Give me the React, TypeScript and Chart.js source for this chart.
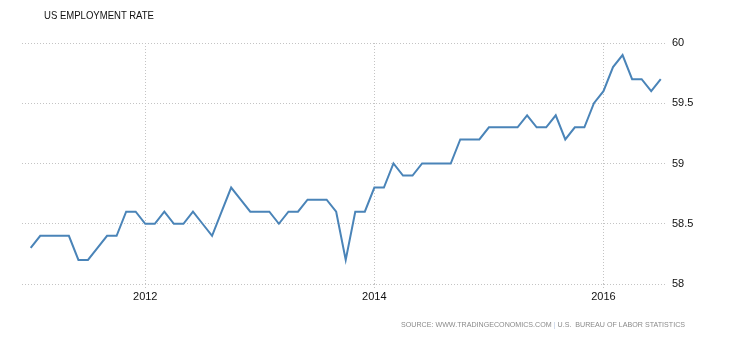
import React, { useEffect, useRef } from "react";
import { Chart, registerables } from "chart.js";

Chart.register(...registerables);

const startYear = 2011;
// Monthly values Jan 2011 .. Jul 2016
const values2011 = [58.3, 58.4, 58.4, 58.4, 58.4, 58.2, 58.2, 58.3, 58.4, 58.4, 58.6, 58.6];
const values2012 = [58.5, 58.5, 58.6, 58.5, 58.5, 58.6, 58.5, 58.4, 58.6, 58.8, 58.7, 58.6];
const values2013 = [58.6, 58.6, 58.5, 58.6, 58.6, 58.7, 58.7, 58.7, 58.6, 58.2, 58.6, 58.6];
const values2014 = [58.8, 58.8, 59.0, 58.9, 58.9, 59.0, 59.0, 59.0, 59.0, 59.2, 59.2, 59.2];
const values2015 = [59.3, 59.3, 59.3, 59.3, 59.4, 59.3, 59.3, 59.4, 59.2, 59.3, 59.3, 59.5];
const values2016 = [59.6, 59.8, 59.9, 59.7, 59.7, 59.6, 59.7];
const values = [...values2011, ...values2012, ...values2013, ...values2014, ...values2015, ...values2016];

const tickYears = [2012, 2014, 2016];
const yTicks = [58, 58.5, 59, 59.5, 60];

export default function App() {
  const ref = useRef<HTMLCanvasElement | null>(null);

  useEffect(() => {
    document.body.style.margin = "0";
    if (!ref.current) return;
    const points = values.map((v, i) => ({ x: i, y: v }));
    const chart = new Chart(ref.current, {
      type: "line",
      data: {
        datasets: [
          {
            data: points,
            borderColor: "#4a84b8",
            borderWidth: 2,
            pointRadius: 0,
            tension: 0,
            fill: false,
          },
        ],
      },
      options: {
        animation: false,
        responsive: false,
        maintainAspectRatio: false,
        layout: { padding: { left: 22, top: 43, right: 0, bottom: 0 } },
        plugins: { legend: { display: false }, tooltip: { enabled: false } },
        scales: {
          x: {
            type: "linear",
            min: -0.91,
            max: 66.55,
            afterBuildTicks: (axis: any) => {
              axis.ticks = tickYears.map((y) => ({ value: (y - startYear) * 12 }));
            },
            afterFit: (axis: any) => {
              axis.height = 56;
            },
            ticks: {
              autoSkip: false,
              maxRotation: 0,
              padding: 2,
              color: "#111",
              font: { family: "Liberation Sans", size: 11 },
              callback: (v: any) => String(startYear + Math.round(Number(v) / 12)),
            },
            grid: {
              color: "#c4c4c4",
              lineWidth: 1,
              tickLength: 4,
              drawTicks: true,
              tickBorderDash: [1, 2],
              tickColor: "#c4c4c4",
            } as any,
            border: { display: false, dash: [1, 2] } as any,
          },
          y: {
            position: "right",
            min: 58,
            max: 60,
            afterBuildTicks: (axis: any) => {
              axis.ticks = yTicks.map((v) => ({ value: v }));
            },
            afterFit: (axis: any) => {
              axis.width = 64;
            },
            ticks: {
              padding: 6,
              color: "#111",
              font: { family: "Liberation Sans", size: 11 },
              callback: (v: any) => String(v),
            },
            grid: { color: "#c4c4c4", lineWidth: 1, drawTicks: false } as any,
            border: { display: false, dash: [1, 2] } as any,
          },
        },
      },
    });
    return () => chart.destroy();
  }, []);

  return (
    <div style={{ position: "relative", width: 730, height: 340, background: "#fff" }}>
      <canvas ref={ref} width={730} height={340} style={{ position: "absolute", left: 0, top: 0 }} />
      <div
        style={{
          position: "absolute",
          left: 44,
          top: 9,
          fontFamily: "Liberation Sans",
          fontSize: 11.5,
          color: "#111",
          whiteSpace: "nowrap",
          transform: "scaleX(0.83)",
          transformOrigin: "left top",
        }}
      >
        US EMPLOYMENT RATE
      </div>
      <div
        style={{
          position: "absolute",
          left: 401,
          top: 320,
          fontFamily: "Liberation Sans",
          fontSize: 8,
          color: "#8a8a8a",
          whiteSpace: "nowrap",
          transform: "scaleX(0.89)",
          transformOrigin: "left top",
        }}
      >
        SOURCE: WWW.TRADINGECONOMICS.COM <span style={{ color: "#b8c8e0" }}>|</span> U.S.&nbsp; BUREAU OF LABOR STATISTICS
      </div>
    </div>
  );
}
